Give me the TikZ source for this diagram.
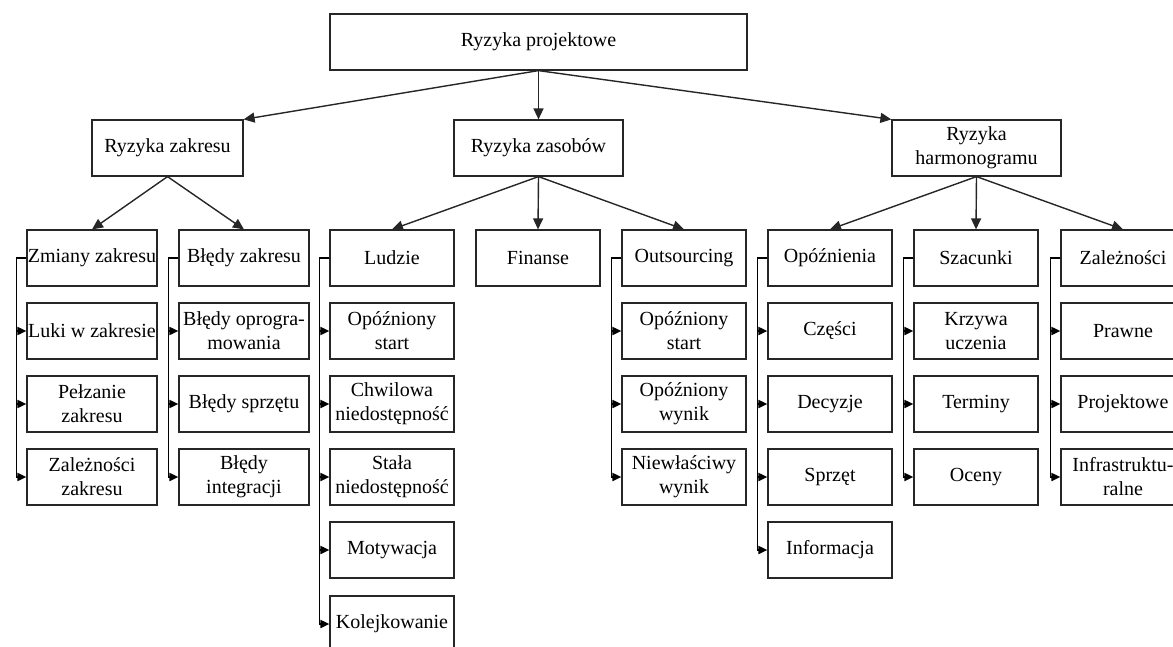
\documentclass[tikz,border=0pt]{standalone}
\usepackage{fontspec}
\setmainfont{Liberation Serif}
\usetikzlibrary{arrows.meta}
\begin{document}
\begin{tikzpicture}[x=1pt,y=-1pt,
  box/.style={draw=black!85, line width=1.2pt, minimum height=56pt, inner sep=0pt,
              align=center, font=\fontsize{20}{24}\selectfont},
  wide/.style={box, minimum width=130pt},
  narrow/.style={box, minimum width=124pt},
  down/.style={draw=black!85, line width=1.4pt, -{Triangle[length=11pt,width=10pt]}},
  side/.style={draw=black, line width=1.8pt, -{Triangle[length=9pt,width=8pt]}},
]
\clip (0,0) rectangle (1173,646);

% root and main categories
\node[box, minimum width=417pt] (root) at (538.5,42) {Ryzyka projektowe};
\node[box, minimum width=151pt] (zak) at (167.5,148) {Ryzyka zakresu};
\node[box, minimum width=169pt] (zas) at (538.5,148) {Ryzyka zasobów};
\node[box, minimum width=169pt] (har) at (976.5,148) {Ryzyka\\harmonogramu};

\draw[down] (root.south) -- (zak.north east);
\draw[down] (root.south) -- (zas.north);
\draw[down] (root.south) -- (har.north west);

% scope risks
\node[wide] (a0) at (92,258) {Zmiany zakresu};
\node[wide] (a1) at (92,331) {Luki w zakresie};
\node[wide] (a2) at (92,404) {Pełzanie\\zakresu};
\node[wide] (a3) at (92,477) {Zależności\\zakresu};

\node[wide] (b0) at (244,258) {Błędy zakresu};
\node[wide] (b1) at (244,331) {Błędy oprogra-\\mowania};
\node[wide] (b2) at (244,404) {Błędy sprzętu};
\node[wide] (b3) at (244,477) {Błędy\\integracji};

% resource risks
\node[narrow] (c0) at (392,258) {Ludzie};
\node[narrow] (c1) at (392,331) {Opóźniony\\start};
\node[narrow] (c2) at (392,404) {Chwilowa\\niedostępność};
\node[narrow] (c3) at (392,477) {Stała\\niedostępność};
\node[narrow] (c4) at (392,550) {Motywacja};
\node[narrow] (c5) at (392,624) {Kolejkowanie};

\node[narrow] (d0) at (538,258) {Finanse};

\node[narrow] (e0) at (684,258) {Outsourcing};
\node[narrow] (e1) at (684,331) {Opóźniony\\start};
\node[narrow] (e2) at (684,404) {Opóźniony\\wynik};
\node[narrow] (e3) at (684,477) {Niewłaściwy\\wynik};

% schedule risks
\node[narrow] (f0) at (830,258) {Opóźnienia};
\node[narrow] (f1) at (830,331) {Części};
\node[narrow] (f2) at (830,404) {Decyzje};
\node[narrow] (f3) at (830,477) {Sprzęt};
\node[narrow] (f4) at (830,550) {Informacja};

\node[narrow] (g0) at (976,258) {Szacunki};
\node[narrow] (g1) at (976,331) {Krzywa\\uczenia};
\node[narrow] (g2) at (976,404) {Terminy};
\node[narrow] (g3) at (976,477) {Oceny};

\node[narrow] (h0) at (1123,258) {Zależności};
\node[narrow] (h1) at (1123,331) {Prawne};
\node[narrow] (h2) at (1123,404) {Projektowe};
\node[narrow] (h3) at (1123,477) {Infrastruktu-\\ralne};

% category to group heads
\draw[down] (zak.south) -- (a0.north);
\draw[down] (zak.south) -- (b0.north);
\draw[down] (zas.south) -- (c0.north);
\draw[down] (zas.south) -- (d0.north);
\draw[down] (zas.south) -- (e0.north);
\draw[down] (har.south) -- (f0.north);
\draw[down] (har.south) -- (g0.north);
\draw[down] (har.south) -- (h0.north);

% group heads to their items
\foreach \p/\n in {a/3, b/3, c/5, e/3, f/4, g/3, h/3}{
  \foreach \i in {1,...,\n}{
    \draw[side] (\p0.west) -- ++(-10,0) |- (\p\i.west);
  }
}
\end{tikzpicture}
\end{document}
